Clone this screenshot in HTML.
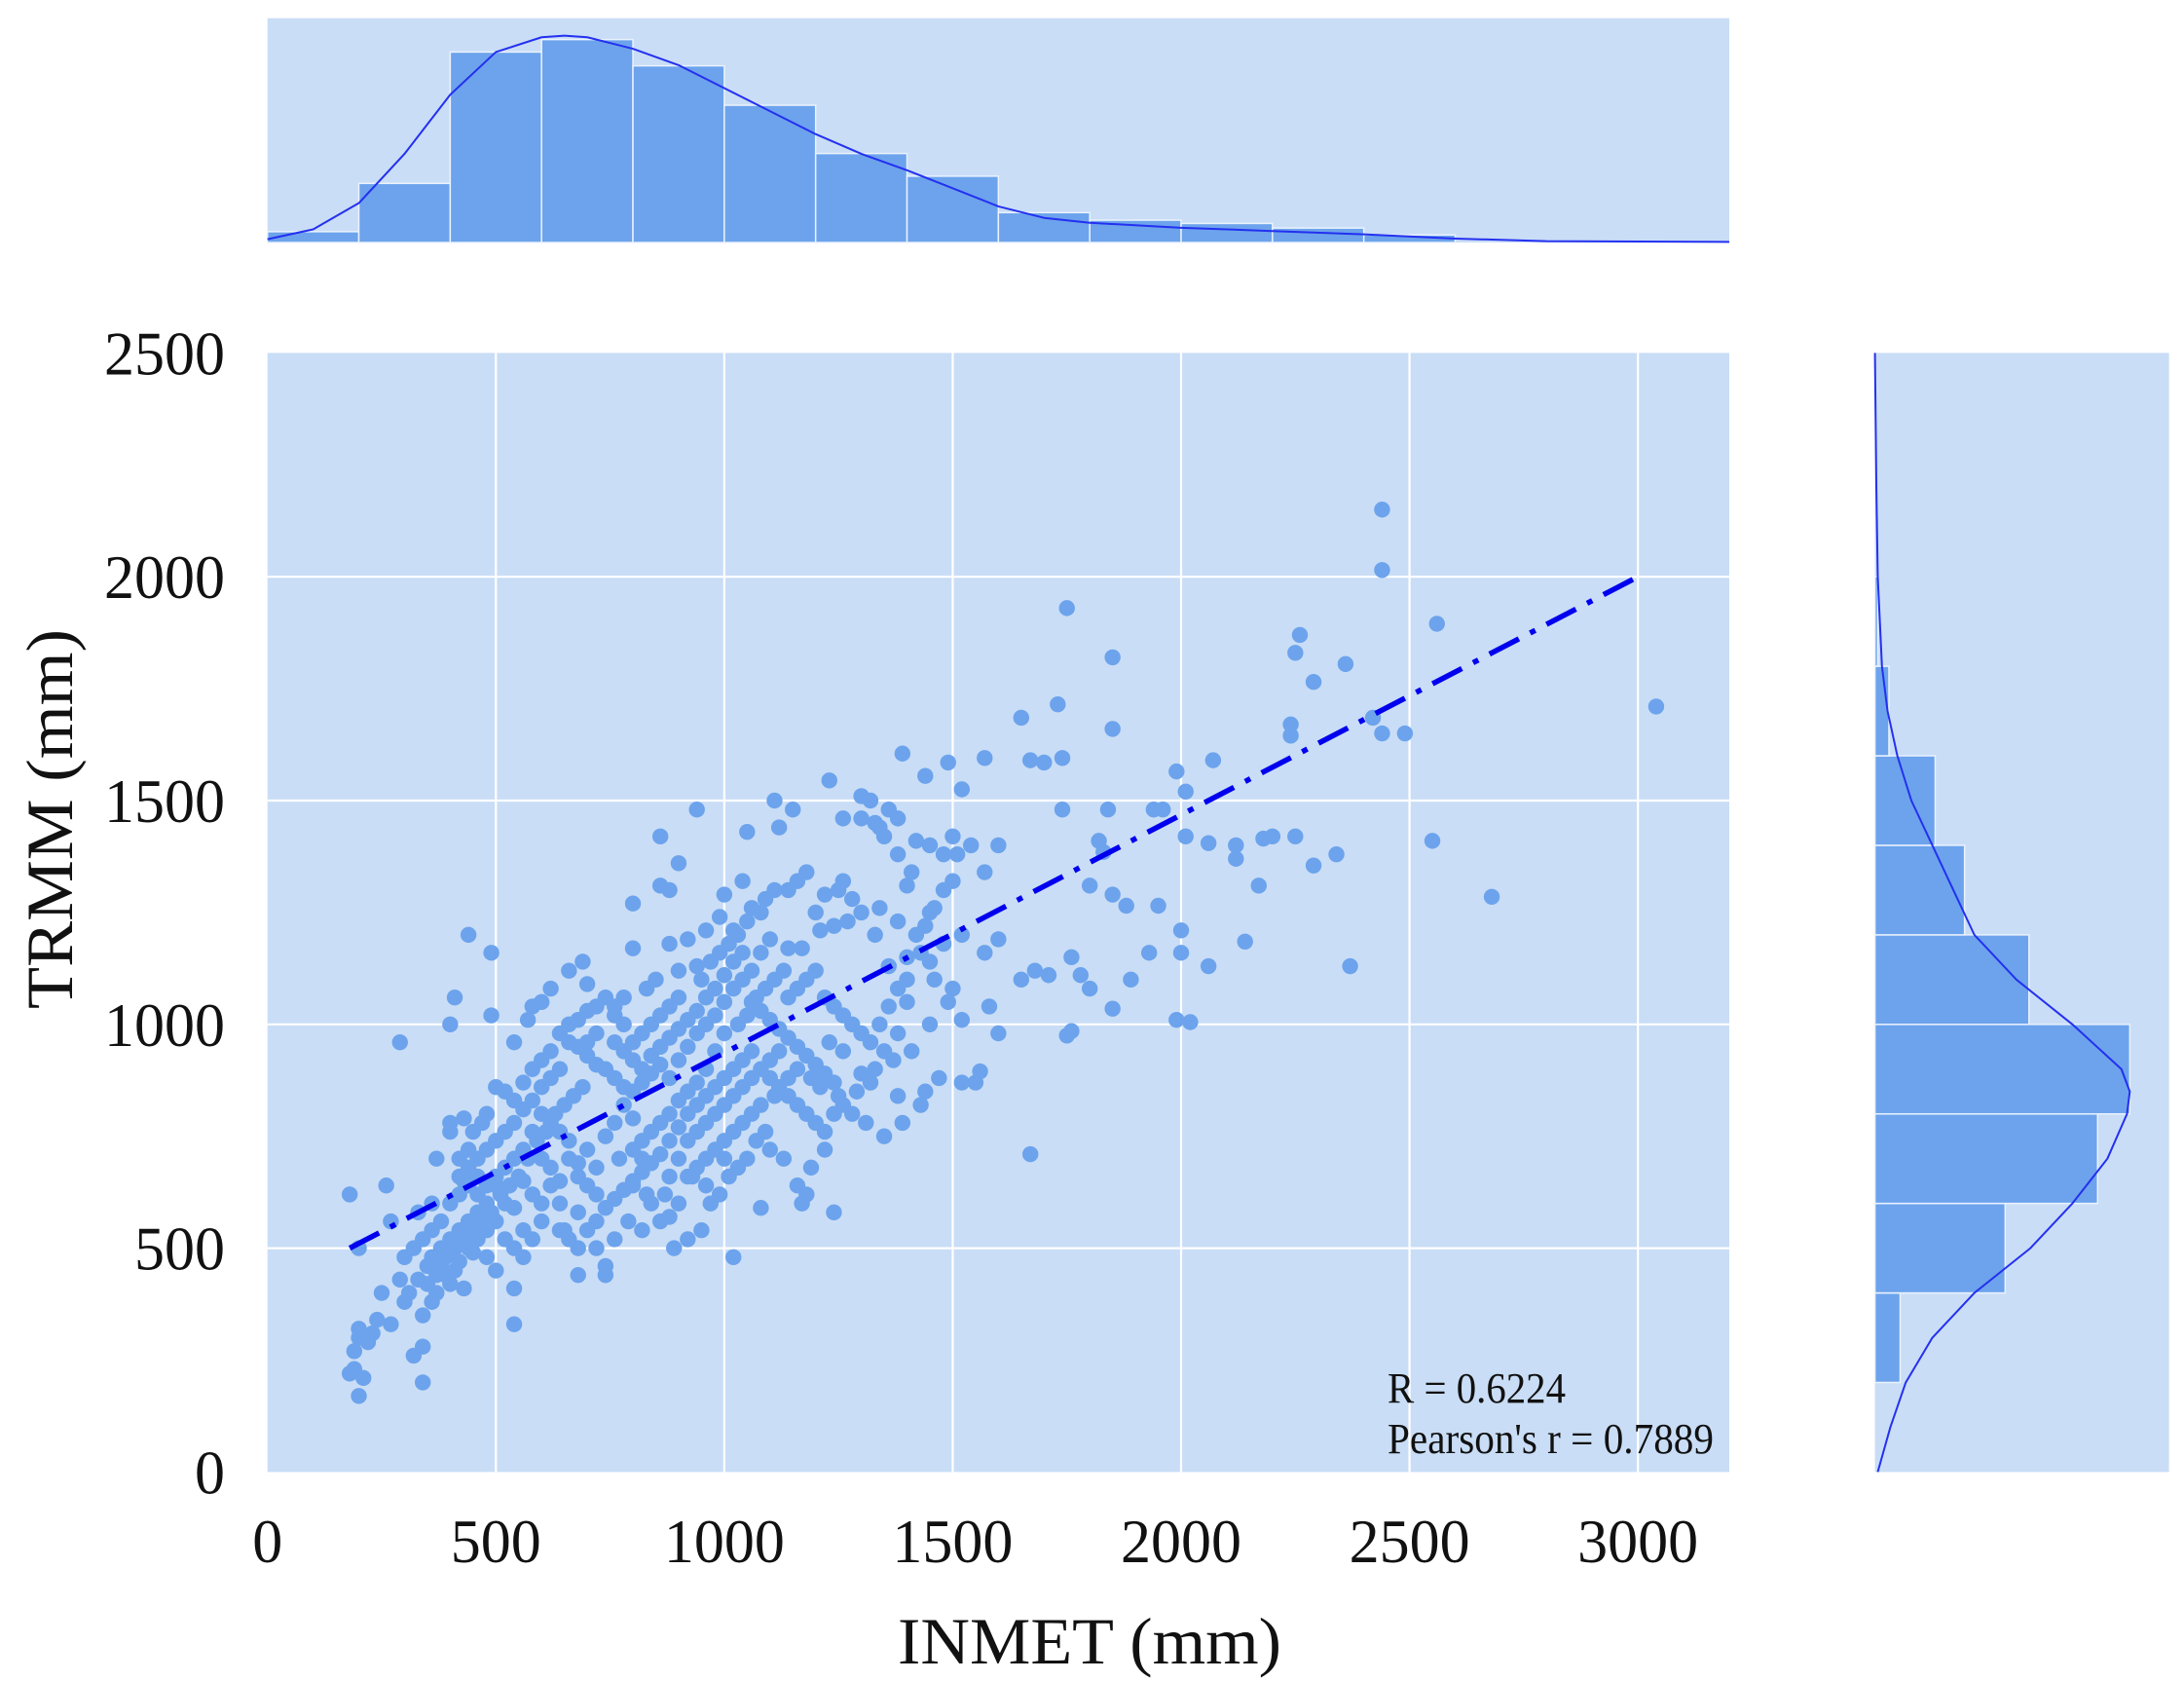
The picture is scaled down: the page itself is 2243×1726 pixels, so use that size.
<!DOCTYPE html>
<html><head><meta charset="utf-8">
<style>
html,body{margin:0;padding:0;background:#fff;}
svg{display:block;}
text{font-family:"Liberation Serif","DejaVu Serif",serif;fill:#111;}
</style></head>
<body>
<svg id="chart" width="2243" height="1726" viewBox="0 0 2243 1726" xmlns="http://www.w3.org/2000/svg">
</svg>
<script>
// ---- data ----
const xTicks = [0,500,1000,1500,2000,2500,3000];
const yTicks = [0,500,1000,1500,2000,2500];
const topBinEdges = [0,200,400,600,800,1000,1200,1400,1600,1800,2000,2200,2400,2600];
const topBinHeights = [33,180,580,618,538,418,271,202,91,68,58,44,23];
const topKdeX = [0,100,200,300,400,500,600,650,700,800,900,1000,1100,1200,1300,1400,1500,1600,1700,1800,2000,2200,2400,2600,2800,3000,3200];
const topKdeY = [10,40,120,270,450,580,625,630,625,590,540,470,400,330,270,220,165,110,75,60,45,35,25,12,4,3,2];
const rightBinEdges = [200,400,600,800,1000,1200,1400,1600,1800,2000];
const rightBinWidths = [18,93,159,182,110,64,43,10,2];
const rightKdeY = [0,100,200,300,400,500,600,700,800,850,900,1000,1100,1200,1300,1400,1500,1600,1700,1800,2000,2200,2500];
const rightKdeW = [2,11,22,41,71,111,141,166,180,182,176,141,101,71,56,41,26,16,9,5,2,1,0];
const regX = [180,3000];
const regY = [500,2000];
const pts = [[2440,2150],[2440,2015],[1750,1930],[2560,1895],[2260,1870],[2250,1830],[1850,1820],[2360,1805],[2290,1765],[1730,1715],[3040,1710],[2420,1685],[2240,1670],[2440,1650],[2490,1650],[2240,1645],[1650,1685],[1850,1660],[1670,1590],[1700,1585],[1740,1595],[1570,1595],[1520,1525],[1490,1585],[1390,1605],[1440,1555],[1230,1545],[1990,1565],[2070,1590],[2010,1520],[1960,1480],[1940,1480],[1840,1480],[1740,1480],[2550,1410],[2250,1420],[2200,1420],[2180,1415],[2340,1380],[2290,1355],[2120,1400],[2060,1405],[2010,1420],[2120,1370],[1820,1410],[1830,1385],[1800,1310],[2170,1310],[2680,1285],[1850,1290],[1880,1265],[1950,1265],[2140,1185],[2000,1210],[2000,1160],[2060,1130],[1930,1160],[1890,1100],[1850,1035],[2370,1130],[1990,1010],[2020,1005],[1760,1150],[1780,1110],[1800,1080],[1710,1110],[1650,1100],[1680,1120],[1760,985],[1750,975],[1600,980],[1670,710],[1560,895],[1550,870],[1520,870],[1470,880],[1580,1040],[1600,1190],[1570,1160],[1520,1010],[1450,1000],[1490,1050],[1500,1080],[1460,1100],[1600,1400],[1540,1400],[1570,1340],[1500,1420],[1480,1380],[1510,1380],[1450,1400],[1420,1410],[1410,1340],[1400,1310],[1380,1380],[1350,1420],[1330,1450],[1300,1460],[1360,1480],[1380,1460],[1300,1510],[1320,1500],[1340,1440],[1260,1460],[1110,1500],[1150,1480],[1120,1440],[1050,1430],[940,1480],[860,1420],[900,1360],[880,1300],[860,1310],[1000,1290],[1040,1320],[1080,1250],[800,1270],[800,1170],[880,1180],[920,1190],[1260,1320],[1250,1300],[1220,1290],[1180,1340],[1160,1320],[1200,1250],[1280,1280],[1340,1260],[1380,1230],[1450,1250],[1430,1160],[1400,1150],[1360,1130],[1330,1200],[1300,1250],[1270,1230],[1240,1220],[1210,1210],[1170,1170],[1140,1170],[1100,1190],[1080,1160],[1050,1230],[1020,1210],[990,1240],[960,1210],[940,1130],[900,1120],[850,1100],[830,1080],[780,1060],[760,1020],[700,1090],[690,1140],[660,1120],[620,1080],[600,1050],[580,1040],[570,1010],[540,960],[490,1020],[410,1060],[400,1000],[440,1200],[490,1160],[290,960],[1410,940],[1370,920],[1330,900],[1300,890],[1260,940],[1230,960],[1380,840],[1430,820],[1440,850],[1390,780],[1350,750],[1310,780],[1280,800],[1250,840],[1220,720],[1190,680],[1180,620],[1160,640],[1130,700],[1100,720],[1080,590],[1020,480],[1170,600],[1240,580],[1000,700],[960,640],[930,660],[900,600],[890,500],[920,520],[950,540],[880,570],[870,620],[830,620],[820,700],[800,720],[770,700],[740,440],[740,460],[680,440],[720,560],[680,580],[650,540],[640,600],[600,560],[560,540],[540,410],[540,330],[500,450],[480,480],[450,490],[430,410],[410,450],[400,420],[390,440],[370,400],[360,380],[340,350],[340,280],[340,200],[320,260],[300,380],[290,430],[270,330],[250,400],[240,340],[230,310],[220,290],[200,320],[200,300],[190,270],[190,230],[180,220],[200,170],[210,210],[180,620],[200,500],[260,640],[270,560],[330,580],[360,600],[370,700],[400,760],[400,780],[420,700],[440,720],[430,650],[460,620],[480,600],[500,640],[520,600],[540,590],[560,650],[580,620],[600,700],[620,680],[640,650],[660,700],[680,660],[700,720],[720,680],[740,750],[760,780],[780,820],[800,850],[820,870],[840,890],[860,910],[880,880],[900,920],[920,950],[940,980],[960,1000],[980,1020],[1000,1050],[1020,1080],[1040,1100],[1060,1120],[1000,980],[980,940],[960,900],[940,870],[920,850],[900,830],[880,800],[860,780],[840,760],[820,740],[800,790],[780,860],[760,880],[740,900],[720,910],[700,930],[680,950],[660,960],[640,900],[620,880],[600,860],[580,830],[560,810],[540,780],[520,760],[500,740],[480,720],[460,700],[440,680],[420,660],[500,860],[520,850],[540,830],[480,800],[470,780],[450,760],[430,790],[560,870],[580,900],[600,920],[620,940],[640,980],[660,1000],[680,1010],[700,1030],[720,1040],[760,960],[780,940],[800,920],[820,900],[840,930],[860,950],[880,970],[900,990],[920,1010],[940,1030],[960,1060],[980,1080],[1000,1110],[1020,1140],[1040,1160],[1060,1050],[1080,1030],[1100,1010],[1120,990],[1140,970],[1160,950],[1180,930],[1200,910],[1220,890],[1240,870],[1100,880],[1120,860],[1140,840],[1160,820],[1180,800],[1200,780],[1220,760],[1080,820],[1060,800],[1040,780],[1020,760],[1000,740],[980,720],[960,700],[940,680],[920,660],[1060,940],[1040,920],[1020,900],[1000,880],[980,860],[960,840],[940,820],[920,800],[900,770],[880,740],[860,710],[840,690],[820,670],[800,650],[780,630],[760,610],[740,590],[720,620],[700,640],[680,690],[660,740],[640,760],[620,780],[600,800],[580,760],[560,720],[540,700],[520,680],[500,660],[480,640],[460,580],[440,560],[420,540],[400,520],[380,500],[360,480],[350,460],[380,460],[420,470],[440,500],[460,520],[480,540],[500,560],[520,520],[540,500],[560,480],[580,520],[600,600],[620,640],[640,540],[660,520],[680,500],[700,540],[720,500],[760,520],[790,560],[800,640],[840,600],[860,560],[820,540],[880,660],[900,700],[920,740],[940,760],[960,780],[980,800],[1000,820],[1020,840],[1040,860],[1060,880],[1080,900],[1100,920],[1120,940],[1140,1060],[1160,1080],[1180,1100],[1200,1120],[1220,1060],[1240,1040],[1260,1020],[1280,1000],[1300,980],[1320,960],[1340,1000],[1360,1040],[1380,1080],[1400,1100],[1420,1200],[1440,1220],[1460,1260],[1480,1300],[1500,1320],[1520,1200],[1480,1180],[1450,1140],[1400,1050],[1380,980],[1350,940],[1320,870],[1290,850],[1260,820],[1240,800],[1210,860],[1190,880],[1160,900],[1140,880],[1110,840],[1090,760],[1070,740],[1050,700],[1030,680],[1010,660],[990,620],[970,600],[1030,1000],[1050,1020],[1070,1060],[1090,1080],[1110,1100],[1130,1120],[1010,1180],[1030,1200],[1060,1260],[1090,1280],[1110,1300],[1140,1300],[950,1100],[970,1140],[990,1160],[900,1060],[880,1040],[860,1020],[840,1000],[820,980],[800,960],[780,1000],[760,1040],[740,1060],[720,980],[700,960],[690,860],[670,840],[650,820],[630,800],[610,760],[590,740],[570,700],[550,660],[530,640],[510,620],[490,580],[470,560],[450,540],[430,520],[410,500],[390,480],[370,440],[350,420],[330,430],[310,400],[380,560],[360,540],[340,520],[320,500],[300,480],[400,600],[420,620],[440,640],[460,660]];

// ---- layout ----
const L=274.7, R=1776, T=362.4, B=1511.4;
const X0=0, X1=3200, Y0=0, Y1=2500;
const xs = v => L + (v-X0)/(X1-X0)*(R-L);
const ys = v => B - (v-Y0)/(Y1-Y0)*(B-T);
const TT=18.7, TB=249, TMAX=683;
const th = v => TB - v/TMAX*(TB-TT);
const RL=1925.6, RR=2227.6, RMAX=210;
const rw = v => RL + v/RMAX*(RR-RL);

const NS='http://www.w3.org/2000/svg';
const svg=document.getElementById('chart');
function mk(tag, attrs, parent){
  const e=document.createElementNS(NS,tag);
  for(const k in attrs) e.setAttribute(k,attrs[k]);
  (parent||svg).appendChild(e); return e;
}
const BG='#c9ddf6', BAR='#6ca3ec', KDE='#2430f0';

let bg=mk('rect',{x:L,y:T,width:R-L,height:B-T,fill:BG});


xTicks.forEach(t=>{ if(t>0){ let g=mk('line',{x1:xs(t),x2:xs(t),y1:T,y2:B,stroke:'#fff','stroke-width':2.2});
  
  }});
yTicks.forEach(t=>{ if(t>0&&t<2500){ let g=mk('line',{x1:L,x2:R,y1:ys(t),y2:ys(t),stroke:'#fff','stroke-width':2.2});
  
  }});
const gp=mk('g',{fill:'#6ca3ec'});


pts.forEach((p,i)=>{ let c=mk('circle',{cx:xs(p[0]),cy:ys(p[1]),r:8.2},gp);
  
  });
let rl=mk('line',{x1:xs(regX[0]),y1:ys(regY[0]),x2:xs(regX[1]),y2:ys(regY[1]),stroke:'#0000ee','stroke-width':5.5,'stroke-dasharray':'34 13 6 13'});



function label(txt,x,y,len,size,anchor,extra){
  const t=mk('text',Object.assign({x:x,y:y,'font-size':size,'text-anchor':anchor,textLength:len,lengthAdjust:'spacingAndGlyphs'},extra||{}));
  t.textContent=txt; return t;
}
xTicks.forEach(t=>{ const s=String(t); let e=label(s,xs(t),1604,s.length*31,64,'middle');
  
  });
yTicks.forEach(t=>{ const s=String(t); let e=label(s,231,ys(t)+22,s.length*31,64,'end');
  
  });
let xt=label('INMET  (mm)',1119,1708,394,68,'middle');


let yt=label('TRMM  (mm)',0,0,390,68,'middle',{transform:'translate(74,841) rotate(-90)'});


let a1=label('R = 0.6224',1425,1440,183,44,'start');


let a2=label("Pearson's r = 0.7889",1425,1492,335,44,'start');



let tbg=mk('rect',{x:L,y:TT,width:R-L,height:TB-TT,fill:BG});


topBinHeights.forEach((h,i)=>{ const x0=xs(topBinEdges[i]), x1=xs(topBinEdges[i+1]);
  let r=mk('rect',{x:x0,y:th(h),width:x1-x0,height:TB-th(h),fill:BAR,stroke:'#eaf2fd','stroke-width':1.5});
  
  });
let tk=mk('polyline',{points:topKdeX.map((x,i)=>xs(x)+','+th(topKdeY[i])).join(' '),fill:'none',stroke:KDE,'stroke-width':2,'stroke-linejoin':'round'});



let rbg=mk('rect',{x:RL,y:T,width:RR-RL,height:B-T,fill:BG});


rightBinWidths.forEach((w,i)=>{ const y0=ys(rightBinEdges[i+1]), y1=ys(rightBinEdges[i]);
  let r=mk('rect',{x:RL,y:y0,width:rw(w)-RL,height:y1-y0,fill:BAR,stroke:'#eaf2fd','stroke-width':1.5});
  
  });
let rk=mk('polyline',{points:rightKdeY.map((y,i)=>rw(rightKdeW[i])+','+ys(y)).join(' '),fill:'none',stroke:KDE,'stroke-width':2,'stroke-linejoin':'round'});


</script>
</body></html>
